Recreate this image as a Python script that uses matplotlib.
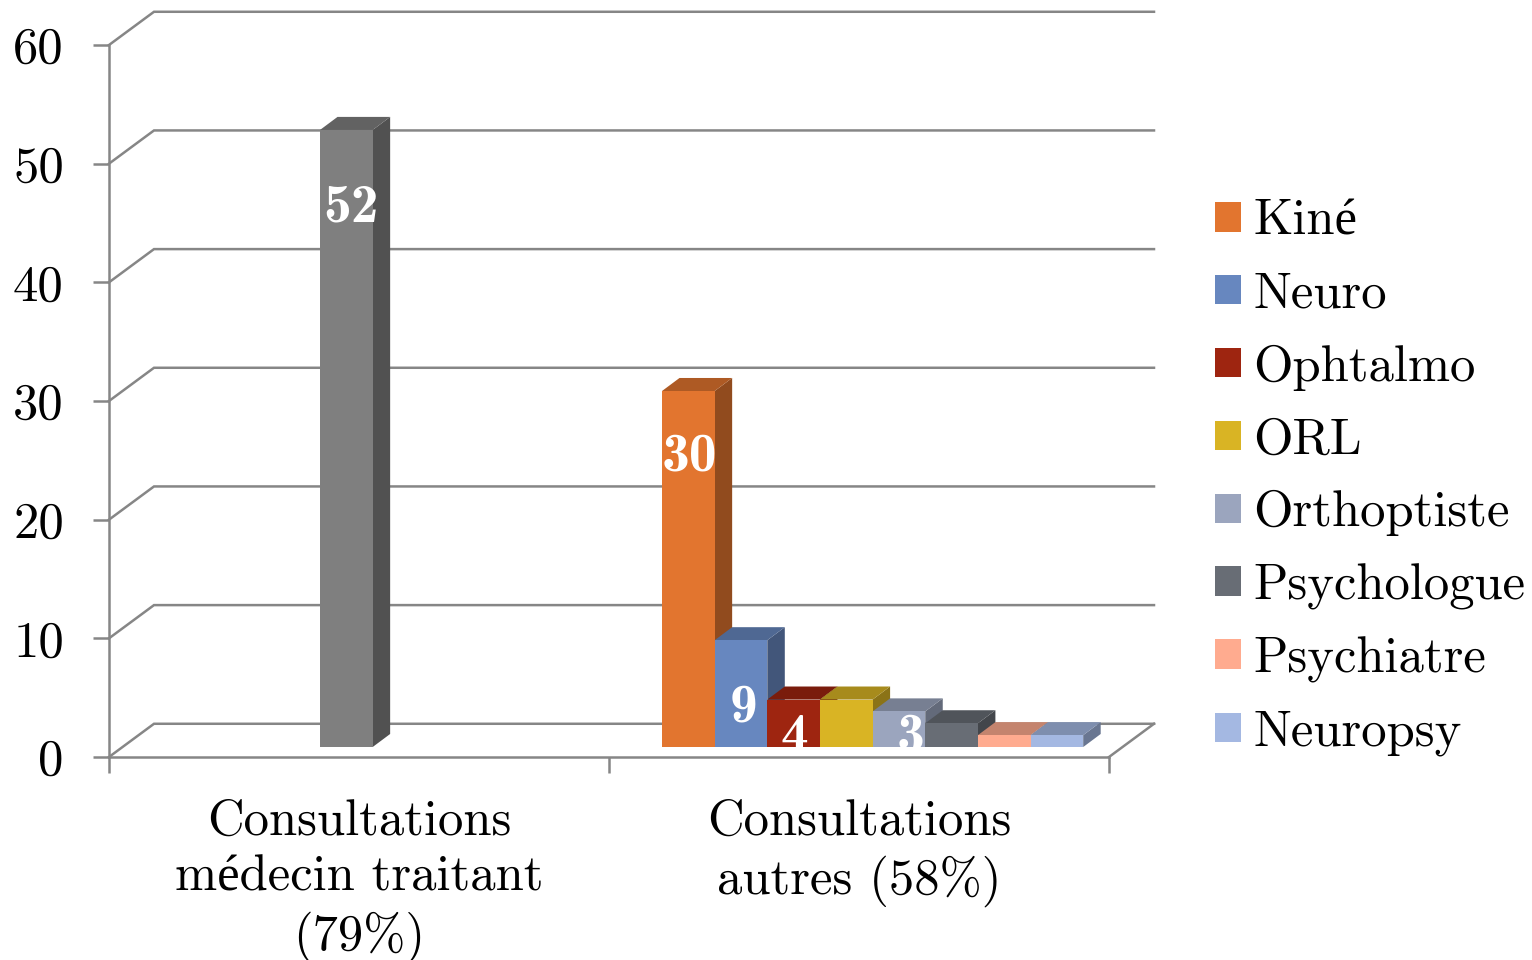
import matplotlib
matplotlib.use("Agg")
import matplotlib.pyplot as plt
from matplotlib.patches import Patch, Polygon

plt.rcParams['font.family'] = ['cmr10', 'Liberation Serif']
plt.rcParams['axes.unicode_minus'] = False

# data
categories = ["Consultations\nmédecin traitant\n(79%)", "Consultations\nautres (58%)"]
y_ticks = [0, 10, 20, 30, 40, 50, 60]

gp_value = 52
gp_label = "52"
gp_color = "#7F7F7F"

specialties = ["Kiné", "Neuro", "Ophtalmo", "ORL", "Orthoptiste", "Psychologue", "Psychiatre", "Neuropsy"]
specialty_values = [30, 9, 4, 4, 3, 2, 1, 1]
specialty_colors = ["#E2752F", "#6787BF", "#9E2510", "#D9B424", "#9BA5BE", "#686D75", "#FFAB8F", "#A4B8E2"]
# only these bars carry a number
specialty_labels = ["30", "9", "4", None, "3", None, None, None]

GRID = "#868686"
W, H = 1532, 960

# fake 3D depth of the floor and of the bars, in data units
FLOOR_DX, FLOOR_DY = 0.09, 2.8
BAR_DX, BAR_DY = 0.035, 1.1
BAR_W = 0.1053
BASE = 0.84


def shade(color, f):
    r, g, b = matplotlib.colors.to_rgb(color)
    return (r * f, g * f, b * f)


def bar3d(ax, left, value, color):
    top = BASE + value
    right = left + BAR_W
    side = [(right, BASE), (right + BAR_DX, BASE + BAR_DY),
            (right + BAR_DX, top + BAR_DY), (right, top)]
    roof = [(left, top), (left + BAR_DX, top + BAR_DY),
            (right + BAR_DX, top + BAR_DY), (right, top)]
    ax.add_patch(Polygon(side, closed=True, fc=shade(color, 0.64), ec="none", clip_on=False, zorder=3))
    ax.add_patch(Polygon(roof, closed=True, fc=shade(color, 0.77), ec="none", clip_on=False, zorder=3))
    return ax.bar(left, value, BAR_W, bottom=BASE, align="edge", color=color, clip_on=False, zorder=3)[0]


def bar_label(ax, x, y, text):
    t = ax.text(x, y, text, color="white", fontsize=40, family="cmb10", ha="center", va="center",
                zorder=4, clip_on=True)
    # numbers that fall low get cut at the foot of the bar
    t.set_clip_box(matplotlib.transforms.Bbox([[0, H - 747], [W, H]]))
    return t


fig = plt.figure(figsize=(W / 100, H / 100), dpi=100)
ax = fig.add_axes([109 / W, 1 - 757 / H, 1000 / W, 712 / H])
ax.set_xlim(0, 2)
ax.set_ylim(0, 60)

# walls and floor
for t in y_ticks:
    ax.plot([0, FLOOR_DX, 2 + FLOOR_DX], [t, t + FLOOR_DY, t + FLOOR_DY], color=GRID, lw=1.8,
            clip_on=False, zorder=1, solid_joinstyle="miter")
ax.plot([2, 2 + FLOOR_DX], [0, FLOOR_DY], color=GRID, lw=1.8, clip_on=False, zorder=1)

for side in ["top", "right"]:
    ax.spines[side].set_visible(False)
for side in ["left", "bottom"]:
    ax.spines[side].set_color(GRID)
    ax.spines[side].set_linewidth(1.8)
    ax.spines[side].set_zorder(2)

ax.set_yticks(y_ticks)
ax.tick_params(axis="y", length=11.5, width=1.8, color=GRID, pad=21, labelsize=36.5)
ax.set_xticks([0, 1, 2])
ax.set_xticklabels([])
ax.set_xticks([0.5, 1.5], minor=True)
ax.set_xticklabels(categories, minor=True, fontsize=36.5, linespacing=1.28)
ax.tick_params(axis="x", which="major", length=11.5, width=1.8, color=GRID)
ax.tick_params(axis="x", which="minor", length=0, pad=30)

# bars
bar3d(ax, 0.422, gp_value, gp_color)
bar_label(ax, 0.484, 46.3, gp_label)

left = 1.106
label_pos = {"30": (1.16, 25.3), "9": (1.268, 4.15), "4": (1.37, 1.65), "3": (1.604, 1.65)}
for name, value, color, lab in zip(specialties, specialty_values, specialty_colors, specialty_labels):
    bar3d(ax, left, value, color)
    if lab:
        bar_label(ax, label_pos[lab][0], label_pos[lab][1], lab)
    left += BAR_W

handles = [Patch(facecolor=c, edgecolor="none") for c in specialty_colors]
fig.legend(handles, specialties, loc="center left", bbox_to_anchor=(1215 / W, 1 - 477.5 / H), frameon=False,
           fontsize=36.5, handlelength=0.52, handleheight=0.52, handletextpad=0.23, labelspacing=0.53,
           borderpad=0, borderaxespad=0)

fig.savefig("out.png", dpi=100)
